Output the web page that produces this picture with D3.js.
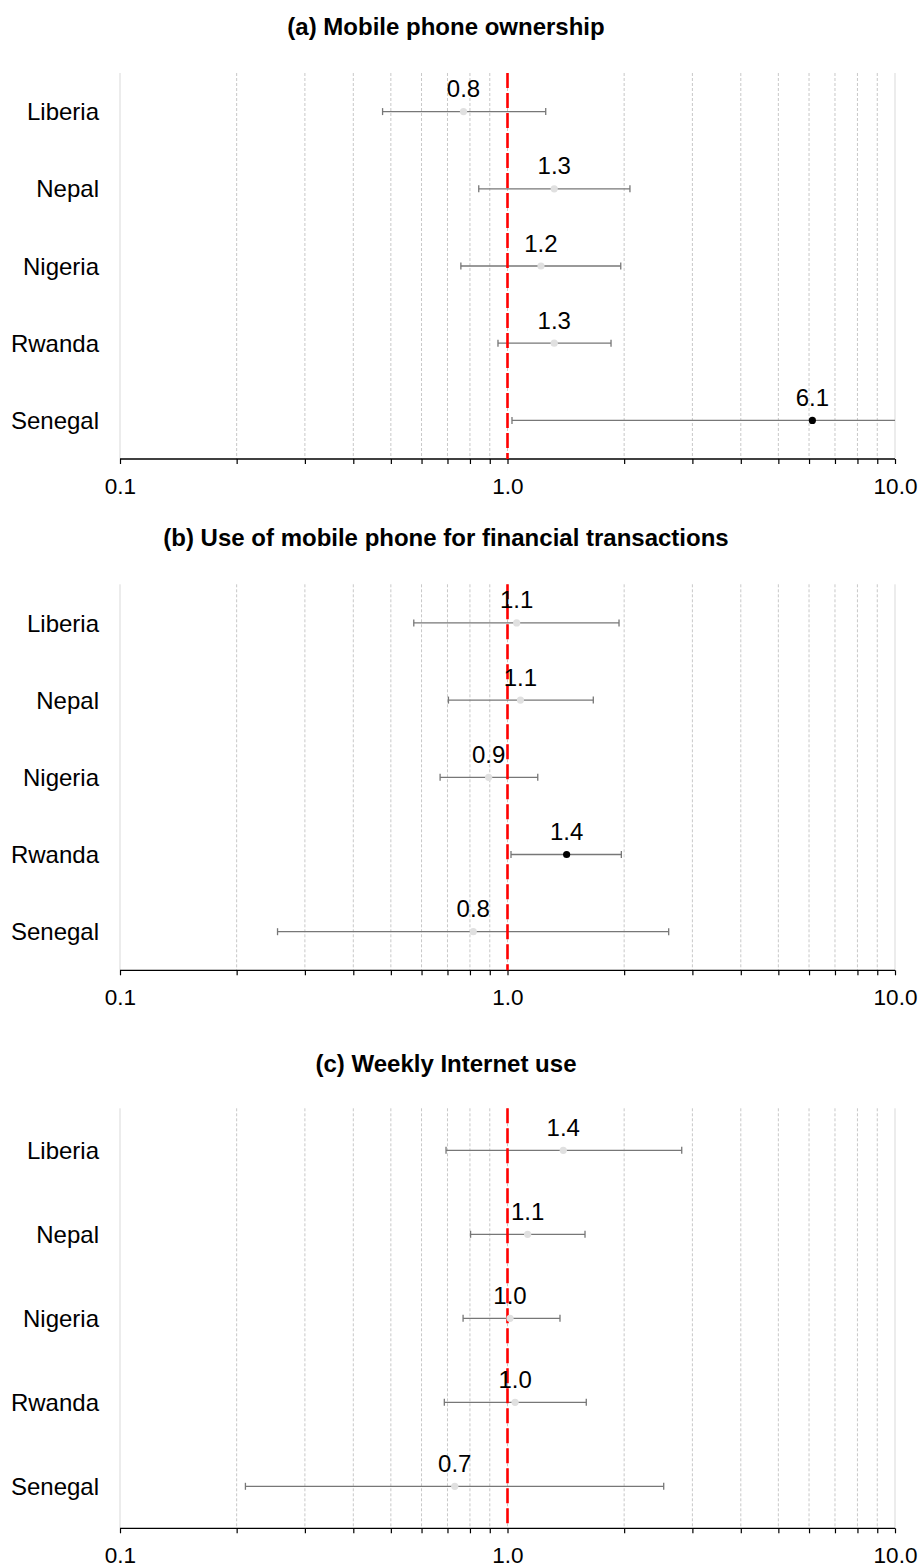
<!DOCTYPE html>
<html>
<head>
<meta charset="utf-8">
<script src="https://cdn.jsdelivr.net/npm/d3@7"></script>
<style>
  body { margin: 0; background: #fff; }
  svg { display: block; font-family: "Liberation Sans", Arial, sans-serif; }
</style>
</head>
<body>
<div id="my_dataviz"></div>
<script>

var countries = ["Liberia", "Nepal", "Nigeria", "Rwanda", "Senegal"];
var titles = [
    "(a) Mobile phone ownership",
    "(b) Use of mobile phone for financial transactions",
    "(c) Weekly Internet use"
];
var tickValues = [0.1, 0.2, 0.3, 0.4, 0.5, 0.6, 0.7, 0.8, 0.9, 1, 2, 3, 4, 5, 6, 7, 8, 9, 10];
var tickLabels = { 0.1: "0.1", 1: "1.0", 10: "10.0" };

// odds ratios, lower / upper bound, label shown, significant or not
var est_a = [0.77, 1.32, 1.22, 1.32, 6.12];
var lo_a = [0.476, 0.843, 0.758, 0.945, 1.027];
var hi_a = [1.255, 2.07, 1.96, 1.85, 12];
var lab_a = ["0.8", "1.3", "1.2", "1.3", "6.1"];
var sig_a = [false, false, false, false, true];

var est_b = [1.056, 1.08, 0.894, 1.421, 0.816];
var lo_b = [0.573, 0.704, 0.67, 1.021, 0.255];
var hi_b = [1.94, 1.665, 1.197, 1.967, 2.606];
var lab_b = ["1.1", "1.1", "0.9", "1.4", "0.8"];
var sig_b = [false, false, false, true, false];

var est_c = [1.393, 1.127, 1.015, 1.046, 0.731];
var lo_c = [0.694, 0.803, 0.768, 0.687, 0.2107];
var hi_c = [2.816, 1.585, 1.366, 1.597, 2.53];
var lab_c = ["1.4", "1.1", "1.0", "1.0", "0.7"];
var sig_c = [false, false, false, false, false];

var panels = [
    { est: est_a, lo: lo_a, hi: hi_a, lab: lab_a, sig: sig_a, top: 73, band: 77.2, titleY: 35 },
    { est: est_b, lo: lo_b, hi: hi_b, lab: lab_b, sig: sig_b, top: 584.3, band: 77.2, titleY: 546 },
    { est: est_c, lo: lo_c, hi: hi_c, lab: lab_c, sig: sig_c, top: 1108.3, band: 84, titleY: 1072 }
];

var width = 924, height = 1568;

var svg = d3.select("#my_dataviz")
    .append("svg")
    .attr("width", width)
    .attr("height", height);

var x = d3.scaleLog()
    .domain([0.1, 10])
    .range([120, 895]);

svg.append("defs").append("clipPath")
    .attr("id", "clipx")
    .append("rect")
    .attr("x", x(0.1)).attr("y", 0)
    .attr("width", x(10) - x(0.1)).attr("height", height);

function drawPanel(p, k) {
    var bottom = p.top + p.band * countries.length;
    var y = d3.scaleBand()
        .domain(countries)
        .range([p.top, bottom]);
    var cy = function (c) { return y(c) + y.bandwidth() / 2; };

    var g = svg.append("g").attr("class", "panel_" + k);

    g.append("text")
        .attr("x", 446)
        .attr("y", p.titleY)
        .attr("text-anchor", "middle")
        .style("font-weight", "bold")
        .style("font-size", "24px")
        .text(titles[k]);

    // grid
    g.selectAll("gridLines")
        .data(tickValues)
        .enter()
        .append("line")
        .attr("x1", function (d) { return x(d); })
        .attr("x2", function (d) { return x(d); })
        .attr("y1", p.top)
        .attr("y2", bottom)
        .attr("stroke", function (d) { return (d == 0.1 || d == 10) ? "#d9d9d9" : "#c8c8c8"; })
        .attr("stroke-width", 1)
        .attr("stroke-dasharray", function (d) { return (d == 0.1 || d == 10) ? null : "3,2"; });

    // axis
    var axis = g.append("g")
        .attr("transform", "translate(0," + bottom + ")")
        .call(d3.axisBottom(x)
            .tickValues(tickValues)
            .tickSize(5)
            .tickFormat(function (d) { return tickLabels[d] || ""; }));
    axis.select(".domain").attr("d", "M" + x(0.1) + ",0H" + x(10)).attr("stroke-width", 1.3);
    axis.selectAll(".tick line").attr("stroke-width", 1.2);
    axis.selectAll("text")
        .attr("y", 19)
        .attr("dy", "0.71em")
        .style("font-size", "22.5px")
        .style("font-family", "Liberation Sans, Arial, sans-serif")
        .attr("fill", "#000");

    // country labels
    g.selectAll("countryLabels")
        .data(countries)
        .enter()
        .append("text")
        .attr("x", 99)
        .attr("y", function (d) { return cy(d); })
        .attr("dy", "0.36em")
        .attr("text-anchor", "end")
        .style("font-size", "24px")
        .text(function (d) { return d; });

    var rows = countries.map(function (c, i) {
        return { c: c, est: p.est[i], lo: p.lo[i], hi: p.hi[i], lab: p.lab[i], sig: p.sig[i] };
    });

    var bars = g.append("g").attr("clip-path", "url(#clipx)");
    bars.selectAll("ciLines")
        .data(rows)
        .enter()
        .append("line")
        .attr("x1", function (d) { return x(d.lo); })
        .attr("x2", function (d) { return x(d.hi); })
        .attr("y1", function (d) { return cy(d.c); })
        .attr("y2", function (d) { return cy(d.c); })
        .attr("stroke", "#777")
        .attr("stroke-width", 1.3);

    var caps = [];
    rows.forEach(function (d) {
        if (d.lo >= 0.1) caps.push({ c: d.c, v: d.lo });
        if (d.hi <= 10) caps.push({ c: d.c, v: d.hi });
    });
    bars.selectAll("ciCaps")
        .data(caps)
        .enter()
        .append("line")
        .attr("x1", function (d) { return x(d.v); })
        .attr("x2", function (d) { return x(d.v); })
        .attr("y1", function (d) { return cy(d.c) - 3.5; })
        .attr("y2", function (d) { return cy(d.c) + 3.5; })
        .attr("stroke", "#777")
        .attr("stroke-width", 1.3);

    // reference line at 1
    g.append("line")
        .attr("x1", x(1)).attr("x2", x(1))
        .attr("y1", p.top).attr("y2", bottom)
        .attr("stroke", "#ff0000")
        .attr("stroke-width", 2.6)
        .attr("stroke-dasharray", "15,5");

    g.selectAll("points")
        .data(rows)
        .enter()
        .append("circle")
        .attr("cx", function (d) { return x(d.est); })
        .attr("cy", function (d) { return cy(d.c); })
        .attr("r", 3.6)
        .attr("fill", function (d) { return d.sig ? "#000" : "#e0e0e0"; });

    g.selectAll("valueLabels")
        .data(rows)
        .enter()
        .append("text")
        .attr("x", function (d) { return x(d.est); })
        .attr("y", function (d) { return cy(d.c) - 14.5; })
        .attr("text-anchor", "middle")
        .style("font-size", "24px")
        .text(function (d) { return d.lab; });
}

panels.forEach(function (p, k) { drawPanel(p, k); });

</script>
</body>
</html>
